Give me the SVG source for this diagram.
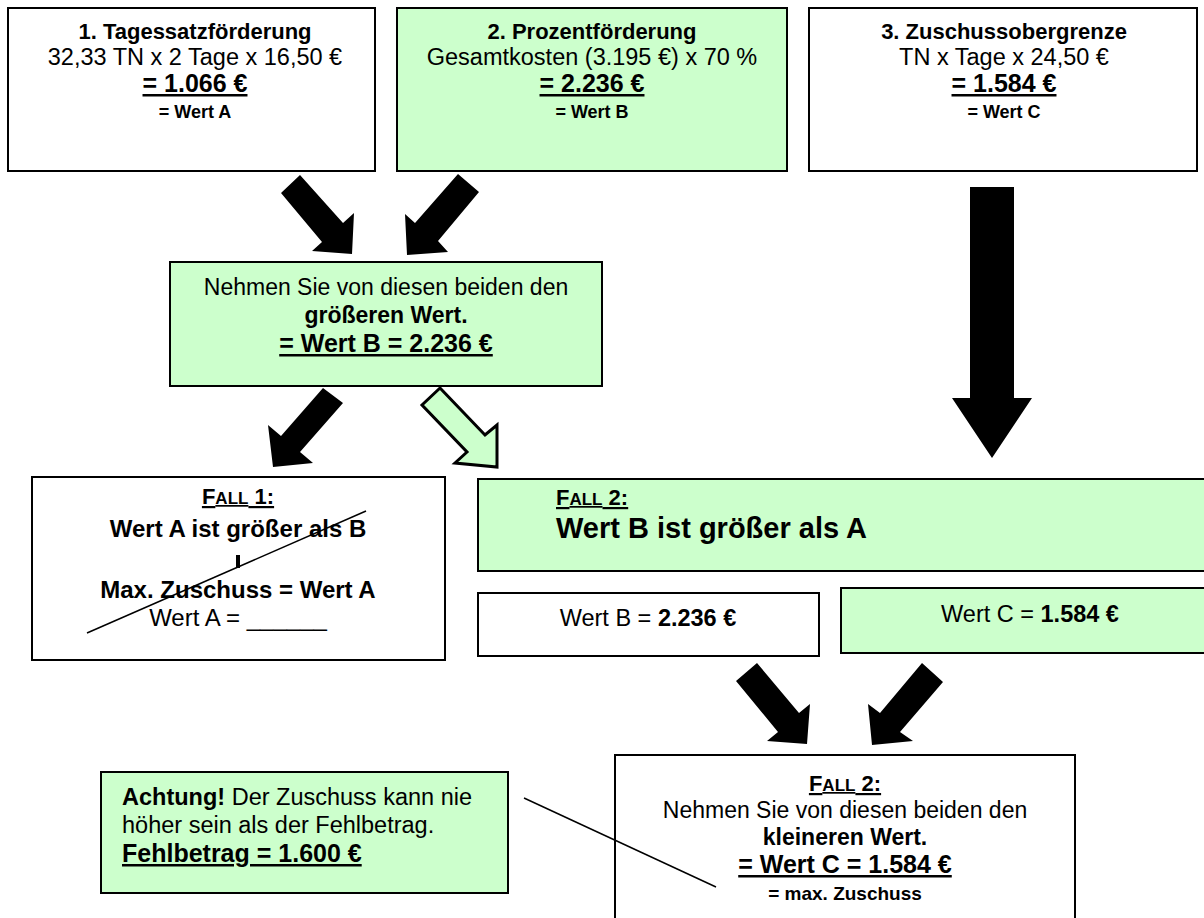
<svg xmlns="http://www.w3.org/2000/svg" width="1204" height="918" viewBox="0 0 1204 918">
<style>
  .box{stroke:#000;stroke-width:2}
  .w{fill:#fff}
  .g{fill:#ccffcc}
  text{font-family:"Liberation Sans",Arial,sans-serif;fill:#000}
  .c{text-anchor:middle}
  .b{font-weight:bold}
  .u{text-decoration:underline}
  .arr{fill:#000;stroke:none}
  .arrg{fill:#ccffcc;stroke:#000;stroke-width:3;stroke-linejoin:miter}
  .ln{stroke:#000;stroke-width:1.5;fill:none}
</style>
<rect width="1204" height="918" fill="#fff"/>

<g id="n1">
  <rect class="box w" x="8" y="8" width="367" height="163"/>
  <text class="c b" x="195" y="39" font-size="22">1. Tagessatzförderung</text>
  <text class="c" x="195" y="65" font-size="23.5">32,33 TN x 2 Tage x 16,50 €</text>
  <text class="c b u" x="195" y="92" font-size="25">= 1.066 €</text>
  <text class="c b" x="195" y="118" font-size="18">= Wert A</text>
</g>
<g id="n2">
  <rect class="box g" x="397" y="8" width="390" height="163"/>
  <text class="c b" x="592" y="39" font-size="22">2. Prozentförderung</text>
  <text class="c" x="592" y="65" font-size="23.5">Gesamtkosten (3.195 €) x 70 %</text>
  <text class="c b u" x="592" y="92" font-size="25">= 2.236 €</text>
  <text class="c b" x="592" y="118" font-size="18">= Wert B</text>
</g>
<g id="n3">
  <rect class="box w" x="809" y="8" width="388" height="163"/>
  <text class="c b" x="1004" y="39" font-size="22">3. Zuschussobergrenze</text>
  <text class="c" x="1004" y="65" font-size="23.5">TN x Tage x 24,50 €</text>
  <text class="c b u" x="1004" y="92" font-size="25">= 1.584 €</text>
  <text class="c b" x="1004" y="118" font-size="18">= Wert C</text>
</g>
<g id="n4">
  <rect class="box g" x="170" y="262" width="432" height="124"/>
  <text class="c" x="386" y="295" font-size="23">Nehmen Sie von diesen beiden den</text>
  <text class="c b" x="386" y="323" font-size="23">größeren Wert.</text>
  <text class="c b u" x="386" y="352" font-size="25">= Wert B = 2.236 €</text>
</g>
<g id="n5">
  <rect class="box w" x="32" y="477" width="413" height="183"/>
  <text class="c b u" x="238" y="504" font-size="22">F<tspan font-size="17">ALL</tspan> 1:</text>
  <text class="c b" x="238" y="537" font-size="24">Wert A ist größer als B</text>
  <rect x="236" y="555" width="4" height="13" fill="#000"/>
  <text class="c b" x="238" y="598" font-size="24">Max. Zuschuss = Wert A</text>
  <text class="c" x="238" y="626" font-size="24">Wert A = ______</text>
  <line class="ln" x1="87" y1="633" x2="366" y2="511"/>
</g>
<g id="n6">
  <rect class="box g" x="478" y="479" width="740" height="92"/>
  <text class="b u" x="556" y="505" font-size="22">F<tspan font-size="17">ALL</tspan> 2:</text>
  <text class="b" x="556" y="538" font-size="29">Wert B ist größer als A</text>
</g>
<g id="n7">
  <rect class="box w" x="478" y="593" width="341" height="63"/>
  <text class="c" x="648" y="626" font-size="23.5">Wert B = <tspan class="b">2.236 €</tspan></text>
</g>
<g id="n8">
  <rect class="box g" x="841" y="588" width="377" height="65"/>
  <text class="c" x="1030" y="622" font-size="23.5">Wert C = <tspan class="b">1.584 €</tspan></text>
</g>
<g id="n9">
  <rect class="box w" x="615" y="755" width="460" height="175"/>
  <text class="c b u" x="845" y="791" font-size="22">F<tspan font-size="17">ALL</tspan> 2:</text>
  <text class="c" x="845" y="818" font-size="23">Nehmen Sie von diesen beiden den</text>
  <text class="c b" x="845" y="845" font-size="23">kleineren Wert.</text>
  <text class="c b u" x="845" y="873" font-size="25">= Wert C = 1.584 €</text>
  <text class="c b" x="845" y="900" font-size="19">= max. Zuschuss</text>
</g>
<g id="n10">
  <rect class="box g" x="101" y="772" width="407" height="121"/>
  <text x="122" y="805" font-size="23.5"><tspan class="b">Achtung!</tspan> Der Zuschuss kann nie</text>
  <text x="122" y="833" font-size="23.5">höher sein als der Fehlbetrag.</text>
  <text class="b u" x="122" y="862" font-size="25">Fehlbetrag = 1.600 €</text>
</g>

<g id="connectors">
  <polygon class="arr" points="300,175 343,223 354,213 352,254 312,251 322,242 281,193"/>
  <polygon class="arr" points="458,174 479,192 438,241 448,252 407,255 405,214 415,223"/>
  <polygon class="arr" points="970,187 1014,187 1014,398 1032,398 992,458 952,398 970,398"/>
  <polygon class="arr" points="323,388 343,403 300,452 313,463 273,467 268,425 281,436"/>
  <polygon class="arrg" points="440,388 485,435 497,425 497,467 455,463 467,452 422,405"/>
  <polygon class="arr" points="757,663 799,713 810,704 807,744 767,741 778,732 736,681"/>
  <polygon class="arr" points="922,663 943,682 900,732 913,741 872,745 868,704 880,713"/>
  <line class="ln" x1="524" y1="798" x2="716" y2="887"/>
</g>
</svg>
